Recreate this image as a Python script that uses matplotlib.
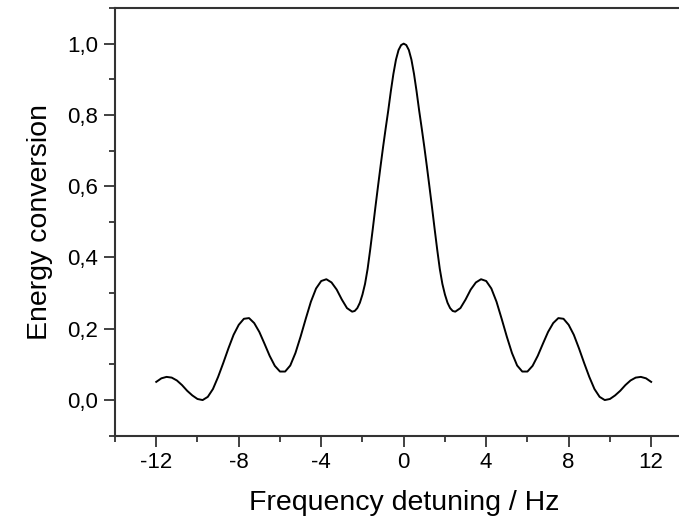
import matplotlib
matplotlib.use("Agg")
import matplotlib.pyplot as plt
from matplotlib.ticker import MultipleLocator

plt.rcParams['font.family'] = ['Liberation Sans', 'DejaVu Sans']
plt.rcParams['axes.unicode_minus'] = False

# Frequency detuning (Hz) and energy conversion
detuning = [-12.0, -11.75, -11.5, -11.25, -11.0, -10.75, -10.5, -10.25, -10.0,
            -9.75, -9.5, -9.25, -9.0, -8.75, -8.5, -8.25, -8.0,
            -7.75, -7.5, -7.25, -7.0, -6.75, -6.5, -6.25, -6.0,
            -5.75, -5.5, -5.25, -5.0, -4.75, -4.5, -4.25, -4.0,
            -3.75, -3.5, -3.25, -3.0, -2.75, -2.5, -2.375, -2.25, -2.125, -2.0,
            -1.875, -1.75, -1.625, -1.5, -1.375, -1.25, -1.125, -1.0,
            -0.875, -0.75, -0.625, -0.5, -0.375, -0.25, -0.125, 0.0,
            0.125, 0.25, 0.375, 0.5, 0.625, 0.75, 0.875, 1.0,
            1.125, 1.25, 1.375, 1.5, 1.625, 1.75, 1.875, 2.0,
            2.125, 2.25, 2.375, 2.5, 2.75, 3.0, 3.25, 3.5, 3.75, 4.0,
            4.25, 4.5, 4.75, 5.0, 5.25, 5.5, 5.75, 6.0,
            6.25, 6.5, 6.75, 7.0, 7.25, 7.5, 7.75, 8.0,
            8.25, 8.5, 8.75, 9.0, 9.25, 9.5, 9.75, 10.0,
            10.25, 10.5, 10.75, 11.0, 11.25, 11.5, 11.75, 12.0]
conversion = [0.051, 0.061, 0.065, 0.063, 0.055, 0.042, 0.026, 0.013, 0.003,
              0.000, 0.009, 0.031, 0.065, 0.104, 0.145, 0.183, 0.211,
              0.228, 0.230, 0.216, 0.191, 0.158, 0.124, 0.096, 0.080,
              0.080, 0.097, 0.132, 0.178, 0.228, 0.276, 0.313, 0.334,
              0.339, 0.330, 0.310, 0.282, 0.258, 0.248, 0.250, 0.258, 0.273, 0.296,
              0.326, 0.368, 0.422, 0.480, 0.540, 0.598, 0.655, 0.710,
              0.762, 0.812, 0.866, 0.915, 0.955, 0.982, 0.996, 1.000,
              0.996, 0.982, 0.955, 0.915, 0.866, 0.812, 0.762, 0.710,
              0.655, 0.598, 0.540, 0.480, 0.422, 0.368, 0.326, 0.296,
              0.273, 0.258, 0.250, 0.248, 0.258, 0.282, 0.310, 0.330, 0.339, 0.334,
              0.313, 0.276, 0.228, 0.178, 0.132, 0.097, 0.080, 0.080,
              0.096, 0.124, 0.158, 0.191, 0.216, 0.230, 0.228, 0.211,
              0.183, 0.145, 0.104, 0.065, 0.031, 0.009, 0.000, 0.003,
              0.013, 0.026, 0.042, 0.055, 0.063, 0.065, 0.061, 0.051]

x_ticks = [-12, -8, -4, 0, 4, 8, 12]
x_tick_labels = ['-12', '-8', '-4', '0', '4', '8', '12']
y_ticks = [0.0, 0.2, 0.4, 0.6, 0.8, 1.0]
y_tick_labels = ['0,0', '0,2', '0,4', '0,6', '0,8', '1,0']

fig = plt.figure(figsize=(6.79, 5.23), dpi=100)
# axes extend past the right edge of the picture (right spine cut off)
ax = fig.add_axes([115 / 679, 87.3 / 523, (692.4 - 115) / 679, (515 - 87.3) / 523])

ax.plot(detuning, conversion, color='black', lw=1.4, solid_joinstyle='round')

ax.set_xlim(-14, 14)
ax.set_ylim(-0.1, 1.1)
ax.set_xticks(x_ticks)
ax.set_xticklabels(x_tick_labels)
ax.set_yticks(y_ticks)
ax.set_yticklabels(y_tick_labels)
ax.xaxis.set_minor_locator(MultipleLocator(2))
ax.yaxis.set_minor_locator(MultipleLocator(0.1))

spine_color = '#333333'
for s in ax.spines.values():
    s.set_linewidth(1.5)
    s.set_color(spine_color)

ax.tick_params(which='major', direction='out', length=8, width=1.3,
               color=spine_color, labelsize=16, pad=4,
               top=False, right=False)
ax.tick_params(which='minor', direction='out', length=4, width=1.3,
               color=spine_color, top=False, right=False)

ax.set_xlabel('Frequency detuning / Hz', fontsize=20.5, labelpad=12)
ax.set_ylabel('Energy conversion', fontsize=20.5, labelpad=10)

fig.savefig('out.png', dpi=100)
